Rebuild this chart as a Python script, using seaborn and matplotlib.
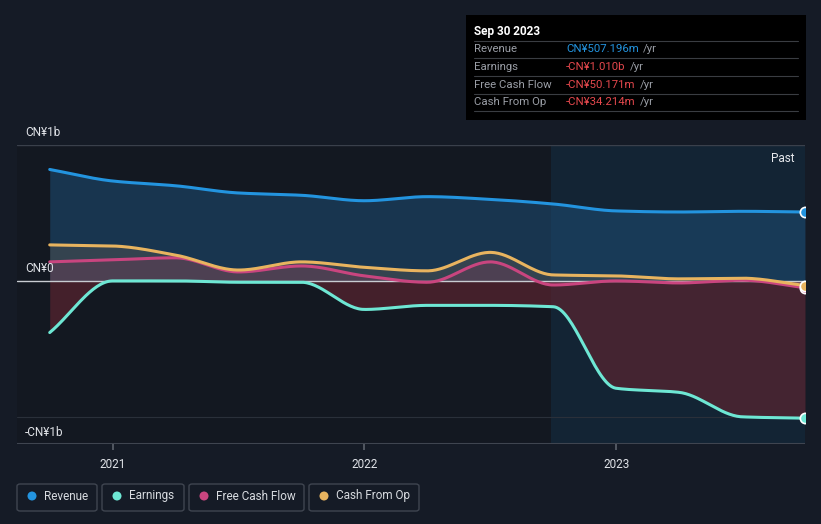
import numpy as np
import pandas as pd
import matplotlib
matplotlib.use("Agg")
import matplotlib.pyplot as plt
from matplotlib.patches import Rectangle, FancyBboxPatch
import seaborn as sns

# quarterly values, CN¥ billions (Sep 2020 .. Sep 2023)
quarters = np.array([2020.75, 2021.0, 2021.25, 2021.5, 2021.75, 2022.0, 2022.25,
                     2022.5, 2022.75, 2023.0, 2023.25, 2023.5, 2023.75])
revenue = [0.82, 0.735, 0.70, 0.647, 0.63, 0.59, 0.62, 0.60, 0.566, 0.515, 0.507, 0.512, 0.507]
earnings = [-0.38, 0.0, 0.0, -0.01, -0.01, -0.21, -0.18, -0.18, -0.19, -0.79, -0.82, -1.0, -1.01]
free_cash_flow = [0.14, 0.155, 0.17, 0.066, 0.11, 0.037, -0.01, 0.14, -0.03, 0.0, -0.015, 0.005, -0.05]
cash_from_op = [0.265, 0.257, 0.19, 0.08, 0.14, 0.10, 0.074, 0.21, 0.044, 0.037, 0.015, 0.02, -0.034]

series_names = ["Revenue", "Earnings", "Free Cash Flow", "Cash From Op"]
series_values = [revenue, earnings, free_cash_flow, cash_from_op]
colors = ["#2394df", "#6ee7d4", "#c9457f", "#e8b45f"]
year_ticks = [2021, 2022, 2023]
y_ticks = [1.0, 0.0, -1.0]
y_labels = ["CN¥1b", "CN¥0", "-CN¥1b"]
tooltip_rows = [("Revenue", "CN¥507.196m", "#2394df"),
                ("Earnings", "-CN¥1.010b", "#e5484d"),
                ("Free Cash Flow", "-CN¥50.171m", "#e5484d"),
                ("Cash From Op", "-CN¥34.214m", "#e5484d")]

BG = "#151b26"


def monotone(x, y, n=400):
    # monotone cubic rendering of the quarterly points (Fritsch-Carlson)
    x = np.asarray(x, float)
    y = np.asarray(y, float)
    h = np.diff(x)
    d = np.diff(y) / h
    m = np.zeros_like(y)
    m[0], m[-1] = d[0], d[-1]
    for k in range(1, len(y) - 1):
        if d[k - 1] * d[k] > 0:
            w1 = 2 * h[k] + h[k - 1]
            w2 = h[k] + 2 * h[k - 1]
            m[k] = (w1 + w2) / (w1 / d[k - 1] + w2 / d[k])
    xs = np.linspace(x[0], x[-1], n)
    idx = np.clip(np.searchsorted(x, xs) - 1, 0, len(x) - 2)
    t = (xs - x[idx]) / h[idx]
    h00 = 2 * t**3 - 3 * t**2 + 1
    h10 = t**3 - 2 * t**2 + t
    h01 = -2 * t**3 + 3 * t**2
    h11 = t**3 - t**2
    ys = h00 * y[idx] + h10 * h[idx] * m[idx] + h01 * y[idx + 1] + h11 * h[idx] * m[idx + 1]
    return xs, ys


sns.set_theme(style="dark")
plt.rcParams["font.family"] = ["Roboto", "DejaVu Sans"]

fig = plt.figure(figsize=(8.21, 5.24), dpi=100, facecolor=BG)
ax = fig.add_axes([17 / 821, 80 / 524, 788 / 821, 299 / 524])
ax.set_facecolor("#131821")
ax.set_xlim(2020.62, 2023.75)
ax.set_ylim(-1.2, 1.0)

# highlighted "past" region
ax.axvspan(2022.74, 2023.75, color="#14283a", alpha=0.8, lw=0, zorder=0)

smooth = {}
for name, vals in zip(series_names, series_values):
    smooth[name] = monotone(quarters, vals)

xs, ys = smooth["Revenue"]
ax.fill_between(xs, 0, ys, color="#1d4d75", alpha=0.55, lw=0, zorder=1)
xs, ys = smooth["Earnings"]
ax.fill_between(xs, 0, ys, color="#5a2430", alpha=0.7, lw=0, zorder=1)
xs, ys = smooth["Cash From Op"]
ax.fill_between(xs, 0, ys, color="#6a6050", alpha=0.35, lw=0, zorder=1)
xs, ys = smooth["Free Cash Flow"]
ax.fill_between(xs, 0, ys, color="#8a3a5a", alpha=0.3, lw=0, zorder=1)

# grid lines
ax.axhline(1.0, color="#3a404b", lw=1, zorder=2)
ax.axhline(-1.0, color="#2a303a", lw=0.8, zorder=2)
ax.axhline(0.0, color="#c8ccd2", lw=1, zorder=2)
ax.axhline(-1.2, color="#3f4550", lw=1.5, zorder=2)

order = ["Revenue", "Free Cash Flow", "Cash From Op", "Earnings"]
for name in order:
    c = colors[series_names.index(name)]
    xs, ys = smooth[name]
    df = pd.DataFrame({"x": xs, "y": ys})
    sns.lineplot(data=df, x="x", y="y", ax=ax, color=c, lw=2.2, zorder=4, sort=False)

for name in ["Free Cash Flow", "Revenue", "Earnings", "Cash From Op"]:
    c = colors[series_names.index(name)]
    vals = series_values[series_names.index(name)]
    ax.scatter([quarters[-1]], [vals[-1]], s=55, color=c, edgecolor="white",
               linewidth=1.2, zorder=6, clip_on=True)

ax.set_xticks(year_ticks)
ax.set_xticklabels([str(y) for y in year_ticks], color="#e0e3e8", fontsize=8.5)
ax.tick_params(axis="x", length=4, color="#5a606a", pad=6, bottom=True)
ax.set_yticks([])
ax.set_xlabel("")
ax.set_ylabel("")
for sp in ax.spines.values():
    sp.set_visible(False)
ax.grid(False)

label_offsets = [-13, -13, 15]
for v, lab, off in zip(y_ticks, y_labels, label_offsets):
    yp = 281 - v * 136 + off
    fig.text(25 / 821, 1 - yp / 524, lab, color="#e0e3e8", fontsize=8.5, va="center", ha="left")

ax.text(2023.71, 0.9, "Past", color="#e6e8ec", fontsize=8.5, ha="right", va="center", zorder=7)

# tooltip box
fig.patches.append(Rectangle((466 / 821, 1 - 120 / 524), 340 / 821, 105 / 524,
                             transform=fig.transFigure, facecolor="#000000", edgecolor="none", zorder=10))
fig.text(474 / 821, 1 - 31 / 524, "Sep 30 2023", color="white", fontsize=8.5,
         fontweight="bold", va="center", zorder=11)
for yl in [41, 58, 76, 94, 111]:
    fig.lines.append(plt.Line2D([474 / 821, 798 / 821], [1 - yl / 524] * 2, transform=fig.transFigure,
                                color="#3a3d42", lw=0.8, zorder=11))
for i, (lab, val, col) in enumerate(tooltip_rows):
    yp = 1 - (49.5 + i * 17.5) / 524
    fig.text(474 / 821, yp, lab, color="#9a9ea6", fontsize=8.2, va="center", zorder=11)
    t = fig.text(566 / 821, yp, val, color=col, fontsize=8.2, va="center", zorder=11)
    fig.canvas.draw()
    bb = t.get_window_extent()
    fig.text((bb.x1 + 4) / 821, yp, "/yr", color="#9a9ea6", fontsize=8.2, va="center", zorder=11)

# legend buttons
legend_boxes = [(17, 97), (102, 184), (189, 304), (309, 419)]
for (x0, x1), name, c in zip(legend_boxes, series_names, colors):
    fig.patches.append(FancyBboxPatch((x0 / 821, 1 - 511 / 524), (x1 - x0) / 821, 27 / 524,
                                      boxstyle="round,pad=0,rounding_size=0.004",
                                      transform=fig.transFigure, facecolor=BG,
                                      edgecolor="#3f4550", lw=1, zorder=10))
    fig.patches.append(matplotlib.patches.Ellipse(((x0 + 15) / 821, 1 - 496 / 524), 9 / 821, 9 / 524,
                                                  transform=fig.transFigure, facecolor=c,
                                                  edgecolor="none", zorder=11))
    fig.text((x0 + 27) / 821, 1 - 496 / 524, name, color="#d8dbe0", fontsize=8.5,
             va="center", zorder=11)

fig.savefig("out.png", dpi=100, facecolor=BG)
